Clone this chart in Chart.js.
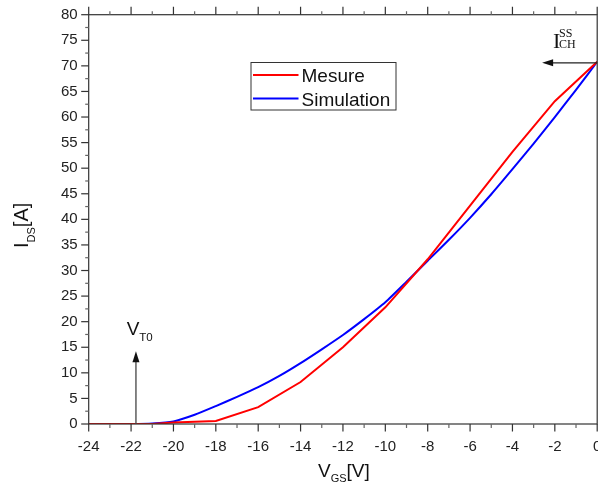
<!DOCTYPE html>
<html>
<head>
<meta charset="utf-8">
<script src="https://cdn.jsdelivr.net/npm/chart.js@4.4.0/dist/chart.umd.min.js"></script>
<style>
  html, body { margin: 0; padding: 0; background: #fff; }
  #cntGrafica { width: 598px; height: 490px; }
</style>
</head>
<body>
<div id="cntGrafica"><canvas id="grafica" width="598" height="490"></canvas></div>
<script>
// datos: VGS [V] / IDS [A]
const vgsMesure = [-24, -22, -21, -20, -18, -16, -14, -12, -10, -8, -6, -4, -2, 0];
const idsMesure = [0, 0, 0, 0.3, 0.6, 3.3, 8.2, 15.0, 22.8, 32.2, 42.7, 53.2, 63.1, 70.8];

const vgsSimulation = [-24, -23, -22, -21, -20, -19, -18, -17, -16, -15, -14, -13, -12,
                       -11, -10, -9, -8, -7, -6, -5, -4, -3, -2, -1, 0];
const idsSimulation = [0, 0, 0, 0.1, 0.5, 1.8, 3.5, 5.3, 7.2, 9.4, 11.9, 14.6, 17.4,
                       20.5, 23.8, 27.8, 31.9, 36.0, 40.3, 44.9, 49.8, 54.8, 60.0, 65.3, 70.8];

const ticksX = [-24, -22, -20, -18, -16, -14, -12, -10, -8, -6, -4, -2, 0];
const ticksY = [0, 5, 10, 15, 20, 25, 30, 35, 40, 45, 50, 55, 60, 65, 70, 75, 80];
const pasoMenorX = 1;
const pasoMenorY = 2.5;

// anotaciones (en unidades de los ejes)
const flechaVT0 = { x: -21.77, y0: 0, y1: 14.2 };
const flechaISS = { y: 70.6, x0: 0, x1: -2.6 };

const fuente = '"Liberation Sans", Arial, sans-serif';
const fuenteSerif = '"Liberation Serif", "Times New Roman", serif';

function puntos(xs, ys) {
  return xs.map(function(v, i) { return { x: v, y: ys[i] }; });
}

// texto con subindices / superindices
function textoCompuesto(ctx, partes, x, y) {
  let cx = x;
  partes.forEach(function(p) {
    ctx.font = p.size + 'px ' + (p.family || fuente);
    ctx.fillText(p.t, (p.x !== undefined ? p.x : cx), y + (p.dy || 0));
    if (p.x === undefined) cx += ctx.measureText(p.t).width;
  });
}

function flecha(ctx, x0, y0, x1, y1) {
  const ang = Math.atan2(y1 - y0, x1 - x0);
  const largo = 11, ancho = 3.5;
  ctx.beginPath();
  ctx.moveTo(x0, y0);
  ctx.lineTo(x1 - Math.cos(ang) * largo * 0.8, y1 - Math.sin(ang) * largo * 0.8);
  ctx.stroke();
  ctx.beginPath();
  ctx.moveTo(x1, y1);
  ctx.lineTo(x1 - Math.cos(ang) * largo - Math.sin(ang) * ancho, y1 - Math.sin(ang) * largo + Math.cos(ang) * ancho);
  ctx.lineTo(x1 - Math.cos(ang) * largo + Math.sin(ang) * ancho, y1 - Math.sin(ang) * largo - Math.cos(ang) * ancho);
  ctx.closePath();
  ctx.fill();
}

const pluginMarco = {
  id: 'marco',
  afterDraw: function(chart) {
    const ctx = chart.ctx;
    const a = chart.chartArea;
    const sx = chart.scales.x, sy = chart.scales.y;
    ctx.save();

    // marco
    ctx.strokeStyle = '#333';
    ctx.lineWidth = 1.2;
    ctx.strokeRect(a.left, a.top, a.right - a.left, a.bottom - a.top);

    // marcas del eje x (abajo y arriba)
    for (let v = sx.min; v <= sx.max + 1e-9; v += pasoMenorX) {
      const px = sx.getPixelForValue(v);
      const mayor = ticksX.indexOf(v) >= 0;
      ctx.strokeStyle = mayor ? '#333' : '#666';
      ctx.beginPath();
      ctx.moveTo(px, a.bottom);
      ctx.lineTo(px, a.bottom + (mayor ? 7.5 : 4));
      ctx.moveTo(px, a.top);
      ctx.lineTo(px, a.top - (mayor ? 8 : 3.5));
      ctx.stroke();
    }
    // marcas del eje y
    for (let v = sy.min; v <= sy.max + 1e-9; v += pasoMenorY) {
      const py = sy.getPixelForValue(v);
      const mayor = ticksY.indexOf(v) >= 0;
      ctx.strokeStyle = mayor ? '#333' : '#666';
      ctx.beginPath();
      ctx.moveTo(a.left, py);
      ctx.lineTo(a.left - (mayor ? 7.5 : 3.5), py);
      ctx.stroke();
    }

    // titulos de los ejes
    ctx.fillStyle = '#111';
    ctx.textAlign = 'left';
    ctx.textBaseline = 'alphabetic';
    textoCompuesto(ctx, [
      { t: 'V', size: 19 },
      { t: 'GS', size: 11, dy: 5 },
      { t: '[V]', size: 19 }
    ], 318, 477);

    ctx.save();
    ctx.translate(27.5, 248);
    ctx.rotate(-Math.PI / 2);
    textoCompuesto(ctx, [
      { t: 'I', size: 20 },
      { t: 'DS', size: 11, dy: 7.5 },
      { t: '[A]', size: 20 }
    ], 0, 0);
    ctx.restore();

    // leyenda
    const lx = 251, ly = 62.5, lw = 145, lh = 47.5;
    ctx.fillStyle = '#fff';
    ctx.fillRect(lx, ly, lw, lh);
    ctx.strokeStyle = '#333';
    ctx.lineWidth = 1;
    ctx.strokeRect(lx, ly, lw, lh);
    chart.data.datasets.forEach(function(ds, i) {
      const yy = ly + 12.5 + i * 23.5;
      ctx.strokeStyle = ds.borderColor;
      ctx.lineWidth = 2;
      ctx.beginPath();
      ctx.moveTo(lx + 2, yy);
      ctx.lineTo(lx + 47.5, yy);
      ctx.stroke();
      ctx.fillStyle = '#111';
      ctx.font = '19px ' + fuente;
      ctx.fillText(ds.label, lx + 50.5, yy + 7.3);
    });

    // flecha VT0
    ctx.strokeStyle = '#444';
    ctx.fillStyle = '#111';
    ctx.lineWidth = 1.3;
    const fx = sx.getPixelForValue(flechaVT0.x);
    const fy1 = sy.getPixelForValue(flechaVT0.y1);
    flecha(ctx, fx, sy.getPixelForValue(flechaVT0.y0), fx, fy1);
    ctx.fillStyle = '#111';
    textoCompuesto(ctx, [
      { t: 'V', size: 19 },
      { t: 'T0', size: 11.5, dy: 6.5 }
    ], fx - 9.3, fy1 - 16.5);

    // flecha ISS
    ctx.strokeStyle = '#222';
    ctx.fillStyle = '#111';
    const iy = sy.getPixelForValue(flechaISS.y);
    flecha(ctx, sx.getPixelForValue(flechaISS.x0), iy, sx.getPixelForValue(flechaISS.x1), iy);
    ctx.fillStyle = '#111';
    textoCompuesto(ctx, [
      { t: 'I', size: 22, family: fuenteSerif, x: 553 },
      { t: 'SS', size: 12, family: fuenteSerif, x: 559, dy: -10.3 },
      { t: 'CH', size: 12, family: fuenteSerif, x: 559 }
    ], 553, iy - 15.2);

    ctx.restore();
  }
};

const ctxGrafica = document.getElementById('grafica').getContext('2d');

window.graficaIDS = new Chart(ctxGrafica, {
  type: 'line',
  data: {
    datasets: [{
      label: 'Mesure',
      data: puntos(vgsMesure, idsMesure),
      borderColor: '#ff0000',
      borderWidth: 2,
      pointRadius: 0,
      tension: 0,
      fill: false
    }, {
      label: 'Simulation',
      data: puntos(vgsSimulation, idsSimulation),
      borderColor: '#0000ff',
      borderWidth: 2,
      pointRadius: 0,
      tension: 0.2,
      fill: false
    }]
  },
  options: {
    responsive: false,
    maintainAspectRatio: false,
    animation: false,
    devicePixelRatio: 1,
    layout: { padding: { left: 0, right: 0.8, top: 14.7, bottom: 0 } },
    plugins: {
      legend: { display: false },
      tooltip: { enabled: false }
    },
    scales: {
      x: {
        type: 'linear',
        min: ticksX[0],
        max: ticksX[ticksX.length - 1],
        grid: { display: false, drawTicks: false },
        border: { display: false },
        afterBuildTicks: function(scale) {
          scale.ticks = ticksX.map(function(v) { return { value: v }; });
        },
        afterFit: function(scale) {
          scale.height = 66;
          scale.paddingLeft = 0;
          scale.paddingRight = 0;
        },
        ticks: {
          color: '#222',
          padding: 14,
          maxRotation: 0,
          autoSkip: false,
          font: { family: fuente, size: 15 }
        }
      },
      y: {
        type: 'linear',
        min: ticksY[0],
        max: ticksY[ticksY.length - 1],
        grid: { display: false, drawTicks: false },
        border: { display: false },
        afterBuildTicks: function(scale) {
          scale.ticks = ticksY.map(function(v) { return { value: v }; });
        },
        afterFit: function(scale) {
          scale.width = 88.7;
          scale.paddingTop = 0;
          scale.paddingBottom = 0;
        },
        ticks: {
          color: '#222',
          padding: 11,
          autoSkip: false,
          font: { family: fuente, size: 15 }
        }
      }
    }
  },
  plugins: [pluginMarco]
});
</script>
</body>
</html>
